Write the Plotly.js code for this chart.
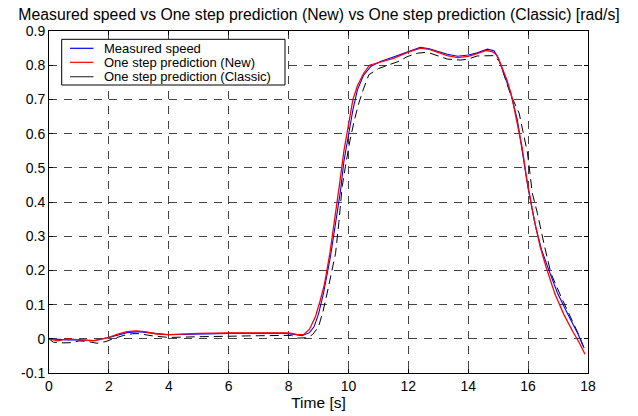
<!DOCTYPE html>
<html>
<head>
<meta charset="utf-8">
<script src="https://cdn.plot.ly/plotly-3.0.1.min.js"></script>
<style>html,body{margin:0;padding:0;background:#fff;}#chart{width:638px;height:416px;}</style>
</head>
<body>
<div id="chart"></div>
<script>
// Measured speed
const tMeasured = [0, 0.3, 0.6, 1.0, 1.5, 2.0, 2.3, 2.6, 3.0, 3.3, 3.6, 4.0, 4.5, 5.0, 6.0, 7.0, 7.9, 8.2, 8.45, 8.7, 8.85, 9.0, 9.17, 9.4, 9.57, 9.73, 9.85, 10.0, 10.15, 10.3, 10.5, 10.74, 11.07, 11.5, 12.0, 12.4, 12.7, 13.0, 13.3, 13.65, 14.0, 14.3, 14.64, 14.86, 15.0, 15.14, 15.3, 15.42, 15.64, 15.86, 16.0, 16.25, 16.45, 16.65, 16.98, 17.31, 17.65, 17.87];
const vMeasured = [0.0, -0.002, -0.003, -0.003, -0.005, 0.004, 0.012, 0.018, 0.021, 0.019, 0.015, 0.012, 0.013, 0.015, 0.016, 0.016, 0.016, 0.013, 0.009, 0.018, 0.035, 0.072, 0.134, 0.241, 0.338, 0.43, 0.52, 0.60, 0.67, 0.728, 0.77, 0.796, 0.811, 0.824, 0.840, 0.852, 0.848, 0.840, 0.832, 0.826, 0.830, 0.836, 0.847, 0.842, 0.822, 0.787, 0.75, 0.718, 0.640, 0.523, 0.44, 0.328, 0.26, 0.211, 0.134, 0.075, 0.017, -0.027];
// One step prediction (New)
const tNew = [0, 0.3, 0.6, 1.0, 1.5, 2.0, 2.3, 2.6, 2.9, 3.2, 3.6, 4.0, 5.0, 6.0, 7.0, 8.0, 8.3, 8.5, 8.7, 8.9, 9.05, 9.2, 9.38, 9.55, 9.7, 9.85, 10.0, 10.15, 10.3, 10.5, 10.7, 11.0, 11.5, 12.0, 12.4, 12.7, 13.0, 13.3, 13.65, 14.0, 14.3, 14.6, 14.8, 14.95, 15.1, 15.3, 15.45, 15.6, 15.8, 15.95, 16.2, 16.4, 16.6, 16.9, 17.2, 17.5, 17.7, 17.9];
const vNew = [0.0, -0.006, 0.0, -0.003, -0.006, 0.004, 0.014, 0.021, 0.023, 0.021, 0.014, 0.012, 0.016, 0.017, 0.017, 0.017, 0.012, 0.012, 0.028, 0.065, 0.11, 0.16, 0.25, 0.35, 0.45, 0.55, 0.63, 0.70, 0.74, 0.775, 0.80, 0.808, 0.82, 0.838, 0.850, 0.846, 0.836, 0.828, 0.822, 0.826, 0.834, 0.843, 0.84, 0.83, 0.80, 0.755, 0.71, 0.65, 0.56, 0.47, 0.35, 0.27, 0.21, 0.13, 0.07, 0.02, -0.01, -0.045];
// One step prediction (Classic)
const tClassic = [0, 0.15, 0.5, 0.8, 1.0, 1.3, 1.6, 1.9, 2.2, 2.5, 2.8, 3.0, 3.5, 4.0, 5.0, 6.0, 7.0, 8.1, 8.3, 8.6, 8.8, 9.0, 9.15, 9.29, 9.42, 9.57, 9.68, 9.79, 9.9, 10.05, 10.2, 10.35, 10.5, 10.68, 11.0, 11.35, 11.7, 11.96, 12.3, 12.63, 13.0, 13.3, 13.75, 14.0, 14.3, 14.86, 15.05, 15.25, 15.42, 15.7, 15.98, 16.14, 16.31, 16.55, 16.76, 17.09, 17.43, 17.7, 17.9];
const vClassic = [0.0, -0.01, -0.012, -0.011, -0.006, -0.008, -0.013, -0.008, 0.002, 0.01, 0.015, 0.015, 0.008, 0.004, 0.006, 0.008, 0.009, 0.01, 0.002, 0.003, 0.012, 0.035, 0.08, 0.134, 0.19, 0.25, 0.34, 0.445, 0.504, 0.58, 0.64, 0.69, 0.73, 0.772, 0.79, 0.80, 0.812, 0.825, 0.835, 0.838, 0.828, 0.818, 0.815, 0.818, 0.827, 0.828, 0.81, 0.76, 0.713, 0.66, 0.543, 0.426, 0.367, 0.27, 0.192, 0.125, 0.058, 0.01, -0.035];

const seriesNames = ['Measured speed', 'One step prediction (New)', 'One step prediction (Classic)'];
const seriesColors = ['#0000ff', '#ff0000', '#000000'];

const xTicks = [0, 2, 4, 6, 8, 10, 12, 14, 16, 18];
const yTicks = [-0.1, 0, 0.1, 0.2, 0.3, 0.4, 0.5, 0.6, 0.7, 0.8, 0.9];
const yTickText = ['-0.1', '0', '0.1', '0.2', '0.3', '0.4', '0.5', '0.6', '0.7', '0.8', '0.9'];

const FONT = 'Liberation Sans, Arial, sans-serif';
const W = 638, H = 416;
const M = {l: 49, r: 50, t: 31, b: 43};
const PW = W - M.l - M.r, PH = H - M.t - M.b;
// pixel -> paper helpers (for the hand-drawn legend box only)
const px = v => (v - M.l) / PW;
const py = v => (H - M.b - v) / PH;

const traces = [
  {x: tClassic, y: vClassic, name: seriesNames[2], mode: 'lines', showlegend: false,
   line: {color: seriesColors[2], width: 1, dash: '9px,5px'}},
  {x: tMeasured, y: vMeasured, name: seriesNames[0], mode: 'lines', showlegend: false,
   line: {color: seriesColors[0], width: 1.1}},
  {x: tNew, y: vNew, name: seriesNames[1], mode: 'lines', showlegend: false,
   line: {color: seriesColors[1], width: 1.3}}
];

const axisCommon = {
  showline: true, linecolor: '#000', linewidth: 1, mirror: 'ticks',
  ticks: 'inside', ticklen: 4, tickcolor: '#000',
  showgrid: true, gridcolor: '#444', gridwidth: 1, griddash: '8px,7px',
  zeroline: false, tickfont: {family: FONT, size: 14, color: '#000'}
};

// legend box drawn with shapes + annotations to match the compact row spacing
const legRows = [48.3, 62.3, 76.7];
const legendSampleColors = ['#0000ff', '#ff0000', '#404040'];
const shapes = [{type: 'rect', xref: 'paper', yref: 'paper', x0: px(61.7), x1: px(285), y0: py(85), y1: py(39.3),
  line: {color: '#000', width: 1}, fillcolor: '#fff', layer: 'above'}];
const annotations = [];
seriesNames.forEach((n, i) => {
  shapes.push({type: 'line', xref: 'paper', yref: 'paper', x0: px(70), x1: px(93.5), y0: py(legRows[i]), y1: py(legRows[i]),
    line: {color: legendSampleColors[i], width: 1.2}, layer: 'above'});
  annotations.push({xref: 'paper', yref: 'paper', x: px(101.5), y: py(legRows[i]), xanchor: 'left', yanchor: 'middle',
    text: n, showarrow: false, font: {family: FONT, size: 13, color: '#000'}});
});

const layout = {
  width: W, height: H,
  margin: M,
  paper_bgcolor: '#fff', plot_bgcolor: '#fff',
  title: {text: 'Measured speed vs One step prediction (New) vs One step prediction (Classic) [rad/s]',
          font: {family: FONT, size: 15.8, color: '#000'}, x: 0.5, xref: 'container', xanchor: 'center',
          yref: 'container', y: 1 - 14 / H, yanchor: 'middle'},
  xaxis: Object.assign({}, axisCommon, {range: [0, 18], tickvals: xTicks, ticktext: xTicks.map(String),
          title: {text: 'Time [s]', font: {family: FONT, size: 15.5, color: '#000'}, standoff: 2}}),
  yaxis: Object.assign({}, axisCommon, {range: [-0.1, 0.9], tickvals: yTicks, ticktext: yTickText}),
  showlegend: false,
  shapes: shapes,
  annotations: annotations
};

Plotly.newPlot('chart', traces, layout, {displayModeBar: false, staticPlot: true});
</script>
</body>
</html>
